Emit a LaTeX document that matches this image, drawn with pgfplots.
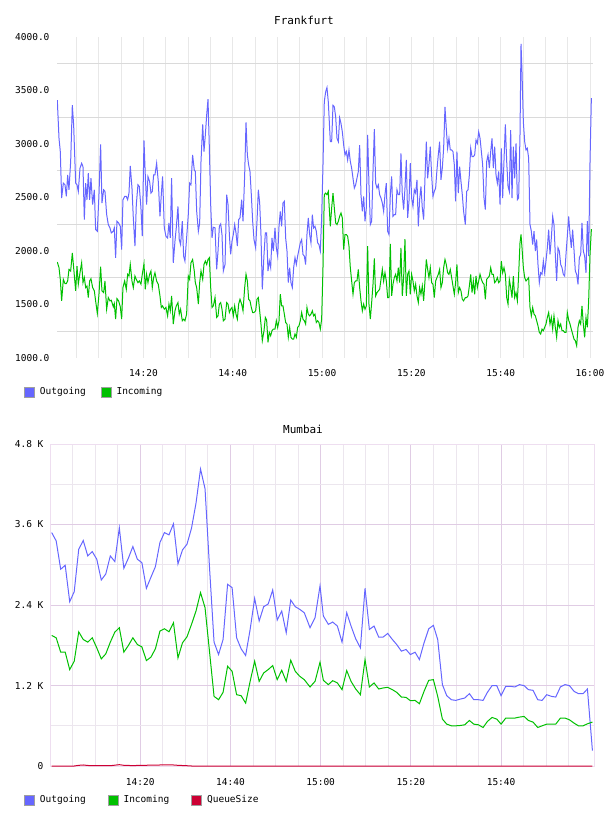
\documentclass[border=0pt]{standalone}
\usepackage{fontspec}
\setmainfont{DejaVu Sans Mono}
\usepackage{pgfplots}
\usepackage{pgfplotstable}
\pgfplotsset{compat=1.18}
\definecolor{outc}{RGB}{102,102,255}
\definecolor{inc}{RGB}{0,192,0}
\definecolor{qc}{RGB}{204,0,51}
\definecolor{gridA}{RGB}{218,218,218}
\definecolor{gridB}{RGB}{232,232,232}
\definecolor{mauveA}{RGB}{224,204,228}
\definecolor{mauveB}{RGB}{236,230,238}
\definecolor{mauveC}{RGB}{238,222,240}

\pgfplotstableread{
t out inc
0.70 3409 1896
1.08 3053 1844
1.37 2929 1735
1.67 2495 1534
2.05 2634 1735
2.42 2619 1695
2.72 2510 1695
3.02 2711 1720
3.31 2572 1828
3.69 2836 1813
4.06 3362 1983
4.36 3176 1844
4.81 2634 1627
5.11 2619 1859
5.40 2557 1689
5.78 2774 1797
6.15 2820 1890
6.45 2789 1704
6.75 2293 1751
7.05 2634 1658
7.34 2479 1673
7.64 2727 1565
7.94 2479 1720
8.24 2680 1741
8.61 2433 1658
8.99 2572 1627
9.28 2200 1534
9.66 2185 1416
10.03 2526 1596
10.40 2997 1853
10.70 2448 1627
11.08 2572 1611
11.37 2557 1720
11.75 2340 1456
12.12 2247 1565
12.49 2216 1534
12.79 2169 1540
13.24 2185 1478
13.46 2216 1509
13.76 1937 1363
14.06 2278 1555
14.43 2262 1534
14.81 2231 1478
15.11 2014 1363
15.40 2479 1658
15.78 2510 1720
16.15 2510 1642
16.45 2479 1782
16.75 2541 1766
17.04 2795 1874
17.42 2588 1720
17.72 2309 1658
18.09 2045 1766
18.39 2433 1735
18.76 2619 1704
19.06 2603 1720
19.43 2402 1689
19.73 2138 1782
20.11 3034 1881
20.40 2711 1642
20.70 2433 1782
21.00 2696 1704
21.37 2650 1782
21.67 2541 1813
21.97 2557 1658
22.27 2711 1751
22.57 2711 1797
22.94 2820 1720
23.31 2650 1689
23.69 2324 1580
23.99 2526 1472
24.28 2696 1487
24.66 2216 1456
25.03 2138 1472
25.40 2122 1394
25.70 2262 1503
26.00 2122 1441
26.30 2680 1580
26.67 1890 1317
27.05 2091 1441
27.34 2216 1487
27.72 2417 1518
28.01 2107 1410
28.31 2060 1456
28.69 2278 1348
28.99 1952 1363
29.28 1906 1348
29.66 2122 1410
30.03 2340 1766
30.33 2634 1735
30.63 2619 1890
31.00 2898 1921
31.37 2758 1813
31.61 2743 1704
31.91 2371 1658
32.29 2185 1503
32.58 2262 1704
32.88 2836 1813
33.26 3183 1735
33.55 2929 1874
33.85 3084 1906
34.15 3270 1874
34.45 3418 1921
34.75 2960 1937
35.05 2433 1658
35.35 2122 1472
35.64 2222 1487
36.02 2216 1565
36.39 1828 1379
36.69 1999 1394
36.99 2231 1503
37.29 2253 1518
37.58 2154 1456
37.88 1813 1348
38.26 1874 1363
38.63 2526 1518
38.93 2433 1503
39.23 2154 1425
39.52 1968 1456
39.82 2091 1472
40.12 2154 1394
40.42 2247 1487
40.72 2169 1410
41.02 2045 1363
41.31 2293 1503
41.61 2309 1549
41.99 2479 1503
42.29 2278 1441
42.66 2711 1658
42.96 3201 1782
43.26 2898 1720
43.55 2805 1549
43.85 2743 1534
44.15 2526 1472
44.45 2278 1425
44.75 2107 1425
45.12 2030 1441
45.42 2278 1549
45.72 2572 1565
46.02 2448 1441
46.31 2154 1317
46.61 1642 1162
46.99 1968 1255
47.29 2169 1379
47.58 2169 1354
47.88 1813 1146
48.18 1906 1239
48.48 1844 1208
48.78 2122 1255
49.08 1999 1270
49.45 2216 1270
49.75 2030 1348
50.05 1952 1286
50.35 2231 1348
50.64 2371 1596
50.94 2231 1487
51.24 2448 1487
51.54 2464 1410
51.84 2122 1332
52.14 1999 1317
52.43 1704 1193
52.73 1844 1286
53.03 1704 1193
53.33 1658 1177
53.63 1844 1177
53.93 1937 1224
54.23 1874 1193
54.52 1952 1286
54.82 2014 1301
55.12 2076 1348
55.42 2107 1425
55.72 1968 1363
56.02 1952 1348
56.31 1874 1317
56.61 2154 1472
56.91 2309 1410
57.21 2154 1394
57.51 2076 1410
57.81 2340 1441
58.10 2216 1394
58.40 2231 1410
58.70 2185 1332
59.00 2076 1348
59.30 2060 1332
59.60 1999 1270
59.90 2309 1363
60.20 2805 1844
60.49 3393 2526
60.79 3486 2541
61.09 3527 2526
61.39 3393 2557
61.84 3021 2231
62.14 3021 2402
62.44 3362 2541
62.74 3347 2402
63.04 3254 2262
63.34 3053 2247
63.64 3021 2278
63.93 3245 2324
64.23 3192 2355
64.53 3114 2309
64.83 2990 2014
65.13 2898 2154
65.43 2929 2154
65.72 2851 2138
66.02 2944 2045
66.32 2836 1844
66.62 2774 1720
66.92 2680 1596
67.22 2588 1704
67.52 2619 1720
67.81 2680 1720
68.11 2743 1828
68.41 2990 1658
68.71 2526 1534
69.01 2371 1441
69.31 2510 1503
69.61 2278 1456
69.90 2402 1487
70.20 3084 2045
70.50 2619 1503
70.80 2247 1363
71.10 2278 1518
71.40 2743 1689
71.70 3139 1930
71.99 2634 1580
72.29 2588 1611
72.59 2619 1627
72.89 2526 1642
73.19 2495 1735
73.49 2448 1828
73.78 2371 1720
74.08 2526 1797
74.38 2634 1720
74.68 2185 1565
74.98 2154 1565
75.28 2526 2067
75.58 2696 1580
75.87 2324 1689
76.17 2340 1751
76.47 2340 1782
76.77 2572 1720
77.07 2526 1844
77.37 2526 1704
77.66 2913 2030
77.96 2526 1580
78.26 2386 1751
78.56 2588 2110
78.86 2851 1580
79.16 2309 1782
79.46 2464 1813
79.75 2820 1596
80.05 2495 1782
80.35 2417 1720
80.65 2572 1627
80.95 2541 1689
81.25 2665 1580
81.55 2231 1518
81.84 2479 1658
82.14 2603 1596
82.44 2402 1673
82.74 2293 1534
83.04 2680 1720
83.34 3021 1921
83.64 2680 1828
83.93 2805 1751
84.23 2975 1844
84.53 2711 1704
84.83 2510 1689
85.13 2557 1565
85.43 2588 1720
85.72 2758 1751
86.02 2898 1782
86.32 3021 1828
86.62 2665 1658
86.92 2774 1704
87.22 2960 1844
87.52 3347 1921
87.81 3146 1874
88.11 2960 1797
88.41 3053 1782
88.71 2944 1828
89.01 2944 1751
89.31 2929 1673
89.61 2805 1596
89.90 2464 1704
90.20 2929 1874
90.50 2541 1611
90.80 2789 1658
91.10 2650 1627
91.40 2526 1549
91.69 2371 1534
92.08 2247 1565
92.38 2557 1565
92.68 2572 1580
92.98 2711 1673
93.28 2960 1782
93.58 2882 1611
93.87 2882 1720
94.17 2898 1596
94.47 3037 1766
94.77 3006 1658
95.07 3114 1720
95.37 3053 1782
95.67 2929 1735
95.96 2805 1704
96.26 2495 1689
96.56 2386 1549
96.86 2836 1735
97.16 2898 1751
97.46 2774 1766
97.76 2929 1844
98.05 3053 1782
98.35 2774 1782
98.65 2975 1704
98.95 2711 1720
99.25 2634 1751
99.55 2743 1704
99.85 2433 1720
100.14 2960 1906
100.44 2495 1797
100.74 2851 1844
101.04 3183 1782
101.34 2836 1565
101.64 2603 1503
101.93 2557 1735
102.23 3130 1658
102.53 2495 1565
102.83 2975 1766
103.13 2680 1565
103.43 3006 1611
103.73 2479 1534
104.02 2495 1782
104.32 3084 2076
104.55 3936 2154
104.77 3672 2030
105.07 3207 1844
105.37 3021 1751
105.67 2944 1720
105.96 2960 1735
106.26 2867 1751
106.56 2247 1472
106.86 2185 1394
107.16 2060 1472
107.46 2185 1410
107.76 1999 1394
108.05 2107 1348
108.35 1874 1301
108.65 1704 1239
108.95 1797 1224
109.25 1782 1270
109.55 1906 1255
109.84 1797 1286
110.14 1906 1317
110.44 2030 1379
110.74 2200 1425
111.04 1968 1317
111.34 2122 1379
111.64 2324 1270
111.93 2247 1394
112.23 1968 1286
112.53 1720 1193
112.83 2030 1348
113.13 1999 1286
113.43 1874 1317
113.73 1844 1255
114.02 1782 1255
114.32 1766 1239
114.62 1968 1239
114.92 2138 1425
115.22 2324 1354
115.52 2154 1317
115.81 2030 1270
116.11 2200 1224
116.41 2014 1177
116.71 1813 1162
117.01 1782 1115
117.31 1689 1286
117.61 1937 1348
117.91 1968 1317
118.20 2262 1487
118.50 1999 1317
118.80 1952 1193
119.10 1797 1379
119.40 2278 1286
119.70 1952 1534
120.00 2836 1968
120.30 3425 2200
120.44 3425 2200
}\frank

\pgfplotstableread{
t out inc
0.37 3480 1946
1.37 3356 1911
2.37 2933 1697
3.37 2992 1697
4.37 2449 1437
5.37 2599 1562
6.37 3231 1999
7.37 3361 1886
8.37 3132 1846
9.37 3196 1911
10.37 3082 1761
11.37 2773 1597
12.37 2863 1672
13.37 3132 1846
14.37 3047 1996
15.37 3550 2061
16.37 2947 1697
17.37 3097 1796
18.37 3271 1911
19.37 3082 1811
20.37 3032 1776
21.37 2649 1572
22.37 2813 1622
23.37 2972 1747
24.37 3331 2011
25.37 3480 2046
26.37 3445 2001
27.37 3610 2136
28.37 3012 1612
29.37 3221 1836
30.37 3306 1926
31.37 3545 2111
32.37 3919 2310
33.37 4427 2584
34.37 4133 2360
35.37 2950 1700
36.37 1846 1038
37.37 1662 988
38.37 1886 1098
39.37 2708 1487
40.37 2659 1412
41.37 1911 1063
42.37 1747 1048
43.37 1647 938
44.37 2036 1262
45.37 2499 1562
46.37 2161 1262
47.37 2375 1387
48.37 2415 1437
49.37 2624 1497
50.37 2176 1287
51.37 2310 1427
52.37 1986 1262
53.37 2474 1577
54.37 2375 1412
55.37 2335 1337
56.37 2285 1287
57.65 2061 1178
58.76 2211 1262
59.86 2684 1547
60.60 2236 1277
61.71 2111 1213
62.67 2146 1272
63.71 2086 1238
64.74 1846 1138
65.78 2285 1422
66.74 2086 1262
67.77 1896 1148
68.81 1761 1063
69.84 2649 1587
70.80 2036 1178
71.84 2086 1238
72.87 1921 1148
73.83 1921 1163
74.87 1976 1173
75.90 1886 1138
76.86 1811 1098
77.90 1712 1028
78.93 1737 1023
79.89 1662 973
80.93 1697 978
81.89 1587 928
82.92 1836 1113
83.96 2046 1277
84.99 2096 1287
85.95 1886 1038
86.99 1213 699
87.95 1048 624
88.99 988 599
89.95 978 599
90.98 998 604
91.94 1013 614
92.98 1078 679
93.94 988 624
94.97 988 614
96.01 978 574
96.97 1098 664
98.00 1198 724
99.04 1198 699
100.00 1048 624
101.03 1188 714
102.07 1188 714
103.03 1178 714
104.06 1213 729
105.10 1198 739
106.06 1138 679
107.09 1128 654
108.13 988 574
109.09 978 599
110.12 1063 624
111.16 1038 624
112.12 1028 624
113.15 1178 714
114.19 1213 714
115.15 1198 689
116.18 1113 639
117.15 1078 599
118.18 1078 599
119.14 1148 629
120.25 230 654
}\mumbai

\pgfplotstableread{
t q
0.37 0
5.37 0
6.37 10
7.37 15
8.37 8
9.37 4
13.37 4
14.37 12
15.37 20
16.37 10
18.37 6
20.37 10
22.37 12
24.37 15
26.37 16
27.37 15
28.37 10
30.37 4
31.37 0
120.25 0
}\queue

\begin{document}
\begin{tikzpicture}[x=1pt,y=1pt]
\useasboundingbox (0,0) rectangle (608,816);
\node[font=\fontsize{11}{13}\selectfont] at (304,796) {Frankfurt};
\node[font=\fontsize{11}{13}\selectfont] at (303,387) {Mumbai};

\begin{axis}[
  at={(57pt,458pt)}, anchor=south west, scale only axis,
  width=536pt, height=321pt,
  xmin=0.63, xmax=120.67, ymin=1000, ymax=4000,
  xtick={20,40,60,80,100,120},
  xticklabels={14:20,14:40,15:00,15:20,15:40,16:00},
  minor xtick={5,10,...,115},
  ytick={1000,1500,2000,2500,3000,3500,4000},
  yticklabels={1000.0,1500.0,2000.0,2500.0,3000.0,3500.0,4000.0},
  minor ytick={1250,1750,2250,2750,3250,3750},
  xmajorgrids, xminorgrids, yminorgrids,
  x grid style={draw=gridB, line width=0.8pt},
  y grid style={draw=gridA, line width=0.8pt},
  axis line style={draw=none},
  tick style={draw=none},
  tick label style={font=\fontsize{9.5}{11}\selectfont},
  yticklabel style={xshift=-4pt},
  xticklabel style={yshift=-8pt},
  legend columns=-1,
  legend style={at={(-0.0616,-0.106)}, anchor=west, draw=none, fill=none,
    inner sep=0pt, font=\fontsize{9.5}{11}\selectfont,
    nodes={inner sep=0pt},
    /tikz/every odd column/.style={column sep=5pt},
    /tikz/every even column/.style={column sep=15pt}},
  legend image code/.code={\filldraw[#1, draw=gray!75, line width=0.8pt] (0pt,-5pt) rectangle (10pt,5pt);},
]
\addplot[outc, line width=1pt] table[x=t, y=out] {\frank};
\addlegendentry{Outgoing}
\addplot[inc, line width=1pt] table[x=t, y=inc] {\frank};
\addlegendentry{Incoming}
\end{axis}

\begin{axis}[
  at={(50pt,50pt)}, anchor=south west, scale only axis,
  width=544pt, height=322pt,
  xmin=0, xmax=120.6, ymin=0, ymax=4800,
  xtick={20,40,60,80,100},
  xticklabels={14:20,14:40,15:00,15:20,15:40},
  minor xtick={5,10,15,25,30,35,45,50,55,65,70,75,85,90,95,105,110,115},
  ytick={0,1200,2400,3600,4800},
  yticklabels={0,1.2 K,2.4 K,3.6 K,4.8 K},
  minor ytick={600,1800,3000,4200},
  grid=both,
  major grid style={draw=mauveA, line width=0.8pt},
  minor grid style={draw=mauveB, line width=0.8pt},
  axis line style={draw=mauveC, line width=1pt},
  tick style={draw=none},
  tick label style={font=\fontsize{9.5}{11}\selectfont},
  yticklabel style={xshift=-3pt},
  xticklabel style={yshift=-9pt},
  legend columns=-1,
  legend style={at={(-0.0478,-0.1056)}, anchor=west, draw=none, fill=none,
    inner sep=0pt, font=\fontsize{9.5}{11}\selectfont,
    nodes={inner sep=0pt},
    /tikz/every odd column/.style={column sep=5pt},
    /tikz/every even column/.style={column sep=22pt}},
  legend image code/.code={\filldraw[#1, draw=gray!75, line width=0.8pt] (0pt,-5pt) rectangle (10pt,5pt);},
]
\addplot[outc, line width=1pt] table[x=t, y=out] {\mumbai};
\addlegendentry{Outgoing}
\addplot[inc, line width=1pt] table[x=t, y=inc] {\mumbai};
\addlegendentry{Incoming}
\addplot[qc, line width=1pt] table[x=t, y=q] {\queue};
\addlegendentry{QueueSize}
\end{axis}
\end{tikzpicture}
\end{document}
